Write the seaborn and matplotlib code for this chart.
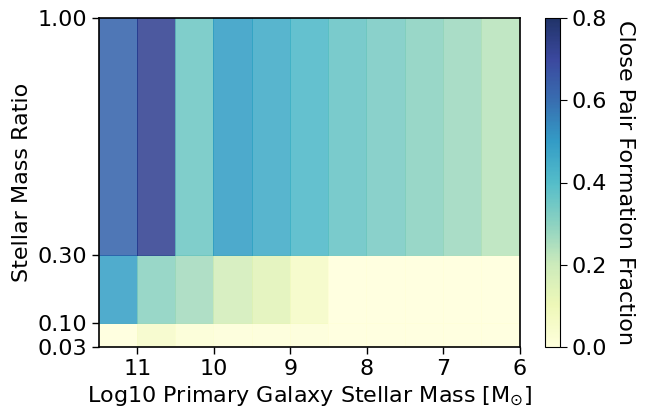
import numpy as np
import matplotlib
matplotlib.use("Agg")
import matplotlib.pyplot as plt
import seaborn as sns

# bin edges
mass_edges = [11.5, 11.0, 10.5, 10.0, 9.5, 9.0, 8.5, 8.0, 7.5, 7.0, 6.5, 6.0]
ratio_edges = [0.03, 0.10, 0.30, 1.00]

# close pair formation fraction per ratio bin (rows, low -> high), per mass bin (11.5 -> 6)
frac_low = [0.0, 0.05, 0.02, 0.01, 0.01, 0.01, 0.0, 0.0, 0.0, 0.0, 0.0]
frac_mid = [0.48, 0.30, 0.26, 0.18, 0.14, 0.06, 0.0, 0.0, 0.0, 0.0, 0.0]
frac_high = [0.62, 0.72, 0.35, 0.49, 0.45, 0.41, 0.36, 0.33, 0.30, 0.27, 0.23]

xticks = [11, 10, 9, 8, 7, 6]
yticks = [0.03, 0.10, 0.30, 1.00]
ytick_labels = ["0.03", "0.10", "0.30", "1.00"]

sns.set_style("ticks")
plt.rcParams['font.family'] = ['DejaVu Sans']

fig = plt.figure(figsize=(6.47, 4.08), dpi=100)
ax = fig.add_axes([99/647, 1-347/408, (520-99)/647, (347-18)/408])
cax = fig.add_axes([545/647, 1-347/408, 15/647, (347-18)/408])

cmap = sns.color_palette("YlGnBu", as_cmap=True)
Z = np.array([frac_low, frac_mid, frac_high])
X, Y = np.meshgrid(mass_edges, ratio_edges)
mesh = ax.pcolor(X, Y, Z, cmap=cmap, vmin=0, vmax=0.8, alpha=0.8)

ax.set_xlim(11.5, 6)
ax.set_ylim(0.03, 1.0)
ax.set_xticks(xticks)
ax.set_yticks(yticks)
ax.set_yticklabels(ytick_labels)
ax.tick_params(labelsize=16, length=5, width=1, colors='black')
for s in ax.spines.values():
    s.set_color('black')
    s.set_linewidth(1.2)
ax.set_xlabel(r"Log10 Primary Galaxy Stellar Mass [M$_{\odot}$]", fontsize=16, color='black')
ax.set_ylabel("Stellar Mass Ratio", fontsize=16, color='black')

cb = fig.colorbar(mesh, cax=cax)
cb.solids.set_alpha(0.9)
cb.set_ticks([0.0, 0.2, 0.4, 0.6, 0.8])
cb.ax.tick_params(labelsize=16, length=5, colors='black')
cb.set_label("Close Pair Formation Fraction", fontsize=16, rotation=270, labelpad=20, color='black')
cb.outline.set_edgecolor('black')

fig.savefig("out.png", dpi=100)
